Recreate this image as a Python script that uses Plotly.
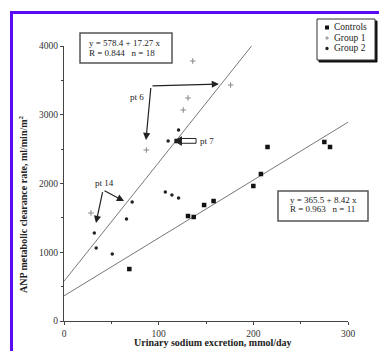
import plotly.graph_objects as go

# ---------------- data ----------------
ctrl_x = [69, 119, 131, 137, 148, 158, 200, 208, 215, 275, 281]
ctrl_y = [756, 2618, 1527, 1513, 1687, 1745, 1964, 2138, 2531, 2604, 2531]

g1_x = [136, 131, 126, 176, 87, 28.5]
g1_y = [3782, 3244, 3069, 3433, 2487, 1571]

g2_x = [121, 110, 32, 34, 51, 66, 72, 107, 114, 121]
g2_y = [2778, 2618, 1280, 1062, 975, 1484, 1731, 1876, 1833, 1789]

fit_names = ["groups", "controls"]
fit_intercept = [578.4, 365.5]
fit_slope = [17.27, 8.42]
fit_xmax = [198, 300]
fit_r = [0.844, 0.963]
fit_n = [18, 11]

x_ticks = [0, 100, 200, 300]
y_ticks = [0, 1000, 2000, 3000, 4000]

# ---------------- layout geometry ----------------
W, H = 379, 351
L, R, T, B = 64, 348, 46, 321


def px(x):
    return (x - L) / (R - L)


def py(y):
    return (B - y) / (B - T)


SERIF = "Liberation Serif, Times New Roman, serif"
INK = "#222"

fig = go.Figure()

# regression lines
for b0, b1, xm in zip(fit_intercept, fit_slope, fit_xmax):
    fig.add_trace(go.Scatter(x=[0, xm], y=[b0, b0 + b1 * xm], mode="lines",
                             line=dict(color="#777", width=1), showlegend=False,
                             hoverinfo="skip"))

fig.add_trace(go.Scatter(x=g1_x, y=g1_y, mode="markers", name="Group 1",
                         marker=dict(symbol="cross-thin", size=4,
                                     line=dict(color="#888", width=1)),
                         showlegend=False))
fig.add_trace(go.Scatter(x=g2_x, y=g2_y, mode="markers", name="Group 2",
                         marker=dict(symbol="circle", size=3.5, color="#222"),
                         showlegend=False))
fig.add_trace(go.Scatter(x=ctrl_x, y=ctrl_y, mode="markers", name="Controls",
                         marker=dict(symbol="square", size=4.5, color="#111"),
                         showlegend=False))

shapes = []
ann = []

# blue frame
FRAME = "#5a0af5"
shapes.append(dict(type="line", xref="paper", yref="paper",
                   x0=px(11.5), x1=px(W + 5), y0=py(12.5), y1=py(12.5),
                   line=dict(color=FRAME, width=3)))
shapes.append(dict(type="line", xref="paper", yref="paper",
                   x0=px(11.5), x1=px(11.5), y0=py(11), y1=py(H + 5),
                   line=dict(color=FRAME, width=3)))

# equation boxes
eq_boxes = [(80, 172, 33, 63, 87, 43, 53), (278, 368, 191, 221, 288, 200, 209)]
for i, (x0, x1, y0, y1, tx, ty1, ty2) in enumerate(eq_boxes):
    shapes.append(dict(type="rect", xref="paper", yref="paper",
                       x0=px(x0), x1=px(x1), y0=py(y0), y1=py(y1),
                       line=dict(color="#555", width=1.5), fillcolor="rgba(0,0,0,0)"))
    ann.append(dict(xref="paper", yref="paper", x=px(tx), y=py(ty1),
                    xanchor="left", yanchor="middle", showarrow=False,
                    text=f"y = {fit_intercept[i]} + {fit_slope[i]} x",
                    font=dict(family=SERIF, size=9, color=INK)))
    ann.append(dict(xref="paper", yref="paper", x=px(tx), y=py(ty2),
                    xanchor="left", yanchor="middle", showarrow=False,
                    text=f"R = {fit_r[i]}&nbsp;&nbsp;&nbsp;n = {fit_n[i]}",
                    font=dict(family=SERIF, size=9, color=INK)))

# legend (manual)
shapes.append(dict(type="rect", xref="paper", yref="paper",
                   x0=px(319), x1=px(377), y0=py(21), y1=py(62),
                   line=dict(color="#111", width=1), fillcolor="#111"))
shapes.append(dict(type="rect", xref="paper", yref="paper",
                   x0=px(317), x1=px(375), y0=py(19), y1=py(60),
                   line=dict(color="#333", width=1), fillcolor="white"))
leg_names = ["Controls", "Group 1", "Group 2"]
leg_y = [27.5, 38, 48.5]
mx = 327
shapes.append(dict(type="rect", xref="paper", yref="paper",
                   x0=px(mx - 2), x1=px(mx + 2), y0=py(leg_y[0] - 2), y1=py(leg_y[0] + 2),
                   line=dict(width=0), fillcolor="#111"))
shapes.append(dict(type="line", xref="paper", yref="paper",
                   x0=px(mx - 1.8), x1=px(mx + 1.8), y0=py(leg_y[1]), y1=py(leg_y[1]),
                   line=dict(color="#888", width=1)))
shapes.append(dict(type="line", xref="paper", yref="paper",
                   x0=px(mx), x1=px(mx), y0=py(leg_y[1] - 1.8), y1=py(leg_y[1] + 1.8),
                   line=dict(color="#888", width=1)))
shapes.append(dict(type="circle", xref="paper", yref="paper",
                   x0=px(mx - 1.7), x1=px(mx + 1.7), y0=py(leg_y[2] - 1.7), y1=py(leg_y[2] + 1.7),
                   line=dict(width=0), fillcolor="#222"))
for name, yy in zip(leg_names, leg_y):
    ann.append(dict(xref="paper", yref="paper", x=px(332), y=py(yy),
                    xanchor="left", yanchor="middle", showarrow=False, text=name,
                    font=dict(family=SERIF, size=9.5, color=INK)))

# patient annotations (arrows in data coordinates)
arrows = [  # (tail_x, tail_y, tip_x, tip_y)
    (91.9, 3418, 86.6, 2633),
    (91.9, 3418, 163.7, 3447),
    (41.2, 1905, 33.8, 1425),
    (41.2, 1905, 63.4, 1745),
]
for tx, ty, hx, hy in arrows:
    ann.append(dict(x=hx, y=hy, ax=tx, ay=ty, xref="x", yref="y", axref="x", ayref="y",
                    showarrow=True, arrowhead=2, arrowsize=1.2, arrowwidth=1.2,
                    arrowcolor="#222", text=" ", font=dict(size=1)))

labels = [("pt 6", 77, 3258), ("pt 14", 43.3, 2007)]
for t, lx, ly in labels:
    ann.append(dict(x=lx, y=ly, xref="x", yref="y", showarrow=False, text=t,
                    xanchor="center", yanchor="middle",
                    font=dict(family=SERIF, size=9, color=INK)))
ann.append(dict(x=141.5, y=2618, xref="x", yref="y", showarrow=False, text="pt 7",
                xanchor="left", yanchor="middle", font=dict(family=SERIF, size=9, color=INK)))
# hollow arrow for pt 7
shapes.append(dict(type="rect", xref="x", yref="y", x0=123.5, x1=139.5, y0=2585, y1=2655,
                   line=dict(color="#222", width=1), fillcolor="white"))
shapes.append(dict(type="path", xref="x", yref="y",
                   path="M 117.5 2618 L 124 2680 L 124 2556 Z",
                   line=dict(color="#222", width=1), fillcolor="#222"))

# axis titles
ann.append(dict(xref="paper", yref="paper", x=px(23), y=py(204), textangle=-90,
                xanchor="center", yanchor="middle",
                showarrow=False, text="<b>ANP metabolic clearance rate, ml/min/m<sup>2</sup></b>",
                font=dict(family=SERIF, size=10, color=INK)))
ann.append(dict(xref="paper", yref="paper", x=px(213), y=py(342),
                xanchor="center", yanchor="middle",
                showarrow=False, text="<b>Urinary sodium excretion, mmol/day</b>",
                font=dict(family=SERIF, size=10, color=INK)))

fig.update_layout(
    width=W, height=H,
    margin=dict(l=L, r=W - R, t=T, b=H - B),
    paper_bgcolor="white", plot_bgcolor="white",
    shapes=shapes, annotations=ann, showlegend=False,
    font=dict(family=SERIF, size=9, color=INK),
)
axis_common = dict(showgrid=False, zeroline=False, showline=True, linecolor="#444",
                   linewidth=1.2, ticks="outside", tickcolor="#444", ticklen=3,
                   tickfont=dict(family=SERIF, size=9.5, color="#333"))
fig.update_xaxes(range=[0, 300], tickvals=x_ticks, ticktext=[str(v) for v in x_ticks],
                 minor=dict(dtick=50, ticks="outside", ticklen=2, tickcolor="#444"),
                 **axis_common)
fig.update_yaxes(range=[0, 4000], tickvals=y_ticks, ticktext=[str(v) for v in y_ticks],
                 minor=dict(dtick=500, ticks="outside", ticklen=2, tickcolor="#444"),
                 **axis_common)

fig.write_html("out.html")
